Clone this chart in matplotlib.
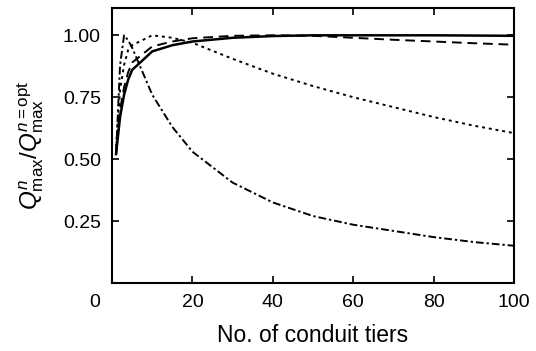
import matplotlib
matplotlib.use("Agg")
import matplotlib.pyplot as plt
import matplotlib.transforms as mtransforms

plt.rcParams['font.family'] = ['Liberation Sans', 'DejaVu Sans']
plt.rcParams['mathtext.fontset'] = 'custom'
plt.rcParams['mathtext.rm'] = 'Liberation Sans'
plt.rcParams['mathtext.it'] = 'Liberation Sans:italic'

# number of conduit tiers
n_tiers = [1, 2, 3, 4, 5, 10, 15, 20, 30, 40, 50, 60, 70, 80, 90, 100]

# normalised max flow for four cases
q_solid = [0.52, 0.67, 0.76, 0.82, 0.86, 0.935, 0.96, 0.975, 0.99, 0.997,
           1.0, 1.0, 1.0, 1.0, 0.999, 0.998]
q_dashed = [0.52, 0.70, 0.79, 0.85, 0.89, 0.955, 0.975, 0.988, 0.998, 1.0,
            0.998, 0.99, 0.982, 0.975, 0.968, 0.962]
q_dotted = [0.55, 0.78, 0.88, 0.94, 0.96, 1.0, 0.99, 0.97, 0.905, 0.845,
            0.795, 0.75, 0.71, 0.67, 0.635, 0.605]
q_dashdot = [0.52, 0.88, 1.0, 0.98, 0.95, 0.76, 0.63, 0.53, 0.405, 0.325,
             0.27, 0.235, 0.21, 0.185, 0.165, 0.15]

x_ticks = [0, 20, 40, 60, 80, 100]
y_ticks = [0.25, 0.50, 0.75, 1.00]

fig = plt.figure(figsize=(5.36, 3.51), dpi=100)
ax = fig.add_axes([0.209, 0.194, 0.750, 0.783])

ax.plot(n_tiers, q_solid, color='black', lw=1.8, ls='-')
ax.plot(n_tiers, q_dashed, color='black', lw=1.4, dashes=(5, 3))
ax.plot(n_tiers, q_dotted, color='black', lw=1.4, dashes=(1.5, 2))
ax.plot(n_tiers, q_dashdot, color='black', lw=1.4, dashes=(4, 1.5, 1.2, 1.5))

ax.set_xlim(0, 100)
ax.set_ylim(0, 1.11)
ax.set_xticks(x_ticks)
ax.set_yticks(y_ticks)
ax.set_yticklabels(['%.2f' % v for v in y_ticks])

ax.tick_params(direction='in', length=5, width=1.2, labelsize=14,
               top=True, right=True, pad=8, color='black')
for s in ax.spines.values():
    s.set_linewidth(1.5)

# the "0" label sits left of the origin in the original
lbl0 = ax.get_xticklabels()[0]
lbl0.set_transform(lbl0.get_transform() +
                   mtransforms.ScaledTranslation(-0.17, 0, fig.dpi_scale_trans))

ax.set_xlabel('No. of conduit tiers', fontsize=16.5, labelpad=9)
ax.set_ylabel(r'$Q^{n}_{\mathrm{max}}/Q^{n\mathrm{=opt}}_{\mathrm{max}}$',
              fontsize=17.5, labelpad=12)

fig.savefig('out.png', dpi=100)
